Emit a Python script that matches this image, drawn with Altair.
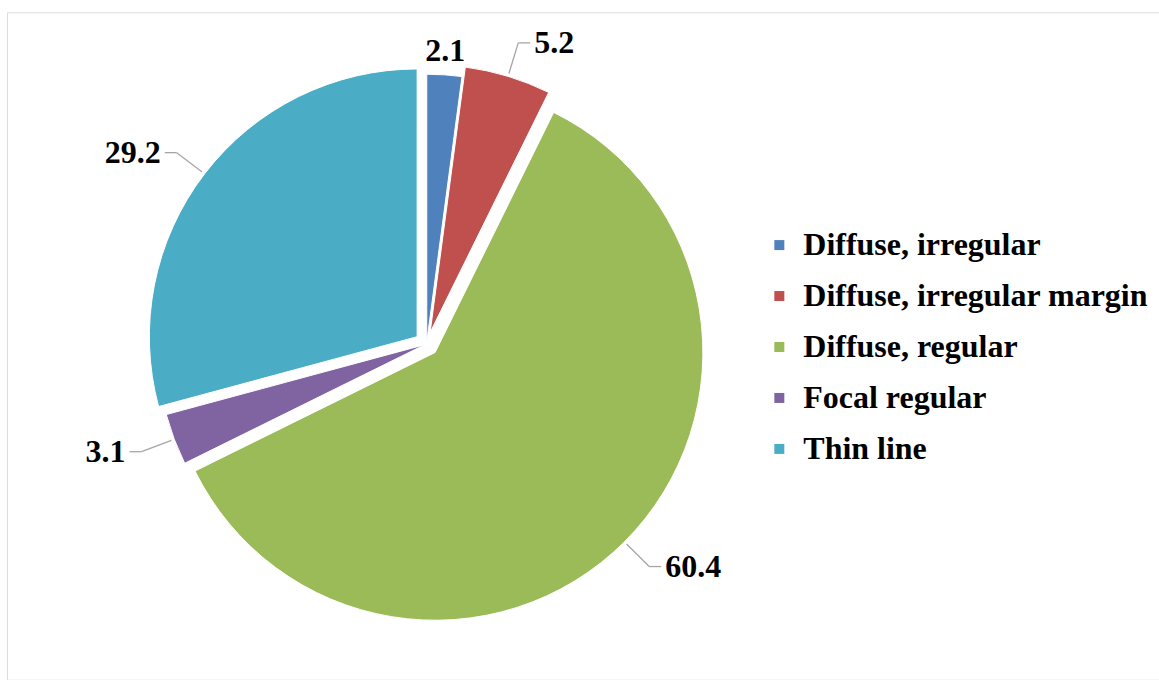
import altair as alt
import pandas as pd

categories = ["Diffuse, irregular", "Diffuse, irregular margin", "Diffuse, regular",
              "Focal regular", "Thin line"]
values = [2.1, 5.2, 60.4, 3.1, 29.2]
labels = ["2.1", "5.2", "60.4", "3.1", "29.2"]
colors = ["#4F81BD", "#C0504D", "#9BBB59", "#8064A2", "#4BACC6"]

df = pd.DataFrame({"category": categories, "value": values, "label": labels,
                   "order": list(range(len(categories)))})

# style / layout constants (pixels, view coordinates)
CX, CY = 420, 332            # pie centre
R = 268                      # pie radius
EXPLODE = [2, 12, 12, 2, 12]  # per-slice explosion distance (style, in slice order)
LEAD = 35                    # leader line length beyond the rim
HOR = 12                     # horizontal leader segment
FONT = "Liberation Serif"
LEG_SIZE = 32

explode_expr = "[" + ",".join(str(e) for e in EXPLODE) + "][datum.order]"

base = (
    alt.Chart(df)
    .transform_window(cum="sum(value)", sort=[alt.SortField("order")], frame=[None, 0])
    .transform_joinaggregate(total="sum(value)")
    .transform_calculate(t0="(datum.cum - datum.value) / datum.total * 2 * PI")
    .transform_calculate(t1="datum.cum / datum.total * 2 * PI")
    .transform_calculate(mid="(datum.t0 + datum.t1) / 2")
    .transform_calculate(sn="sin(datum.mid)")
    .transform_calculate(cs="cos(datum.mid)")
    .transform_calculate(dx=explode_expr)
    .transform_calculate(ex=f"{CX} + datum.dx * datum.sn")
    .transform_calculate(ey=f"{CY} - datum.dx * datum.cs")
    .transform_calculate(side="abs(datum.sn) < 0.15 ? 'c' : (datum.sn > 0 ? 'r' : 'l')")
    .transform_calculate(e_x=f"datum.ex + {R + 3} * datum.sn")
    .transform_calculate(e_y=f"datum.ey - {R + 3} * datum.cs")
    .transform_calculate(p_x=f"datum.ex + {R + LEAD} * datum.sn")
    .transform_calculate(p_y=f"datum.ey - {R + LEAD} * datum.cs")
    .transform_calculate(h_x=f"datum.side == 'r' ? datum.p_x + {HOR} : datum.p_x - {HOR}")
    .transform_calculate(l_x=f"datum.side == 'r' ? datum.h_x + 4 : datum.h_x - 4")
    .transform_calculate(c_x=f"datum.ex + {R + 14} * datum.sn")
    .transform_calculate(c_y=f"datum.ey - {R + 14} * datum.cs")
)

pie = base.mark_arc(radius=R, stroke="white", strokeWidth=1).encode(
    theta=alt.Theta("t0:Q", scale=None, stack=None),
    theta2="t1:Q",
    x=alt.X("ex:Q", scale=None, axis=None),
    y=alt.Y("ey:Q", scale=None, axis=None),
    color=alt.Color(
        "category:N",
        scale=alt.Scale(domain=categories, range=colors),
        legend=alt.Legend(
            title=None, orient="none", legendX=757, legendY=217,
            symbolType="square", symbolSize=100, symbolStrokeWidth=0,
            labelFont=FONT, labelFontWeight="bold", labelFontSize=LEG_SIZE,
            labelColor="black", rowPadding=19, labelOffset=8,
            labelLimit=600,
        ),
    ),
    order=alt.Order("order:Q"),
)

side_data = base.transform_filter("datum.side != 'c'")

lead1 = side_data.mark_rule(color="#a6a6a6", strokeWidth=1.3).encode(
    x=alt.X("e_x:Q", scale=None, axis=None), y=alt.Y("e_y:Q", scale=None, axis=None),
    x2="p_x:Q", y2="p_y:Q",
)
lead2 = side_data.mark_rule(color="#a6a6a6", strokeWidth=1.3).encode(
    x=alt.X("p_x:Q", scale=None, axis=None), y=alt.Y("p_y:Q", scale=None, axis=None),
    x2="h_x:Q", y2="p_y:Q",
)

txt_kw = dict(font=FONT, fontWeight="bold", fontSize=32, color="black")

lab_r = base.transform_filter("datum.side == 'r'").mark_text(
    align="left", baseline="middle", **txt_kw).encode(
    x=alt.X("l_x:Q", scale=None, axis=None), y=alt.Y("p_y:Q", scale=None, axis=None),
    text="label:N")
lab_l = base.transform_filter("datum.side == 'l'").mark_text(
    align="right", baseline="middle", **txt_kw).encode(
    x=alt.X("l_x:Q", scale=None, axis=None), y=alt.Y("p_y:Q", scale=None, axis=None),
    text="label:N")
lab_c = base.transform_filter("datum.side == 'c'").mark_text(
    align="center", baseline="alphabetic", **txt_kw).encode(
    x=alt.X("c_x:Q", scale=None, axis=None), y=alt.Y("c_y:Q", scale=None, axis=None),
    text="label:N")

chart = (
    alt.layer(pie, lead1, lead2, lab_r, lab_l, lab_c)
    .properties(width=1153, height=668, autosize="none",
                padding={"left": 7, "top": 12, "right": 0, "bottom": 0})
    .configure_view(stroke="#d9d9d9", strokeWidth=1.5)
    .configure_legend(labelFont=FONT, labelFontWeight="bold", labelFontSize=LEG_SIZE,
                      labelColor="black", labelLimit=600)
    .configure(background="white", font=FONT)
)

chart.save("out.html", embed_options={"renderer": "svg", "actions": False})
